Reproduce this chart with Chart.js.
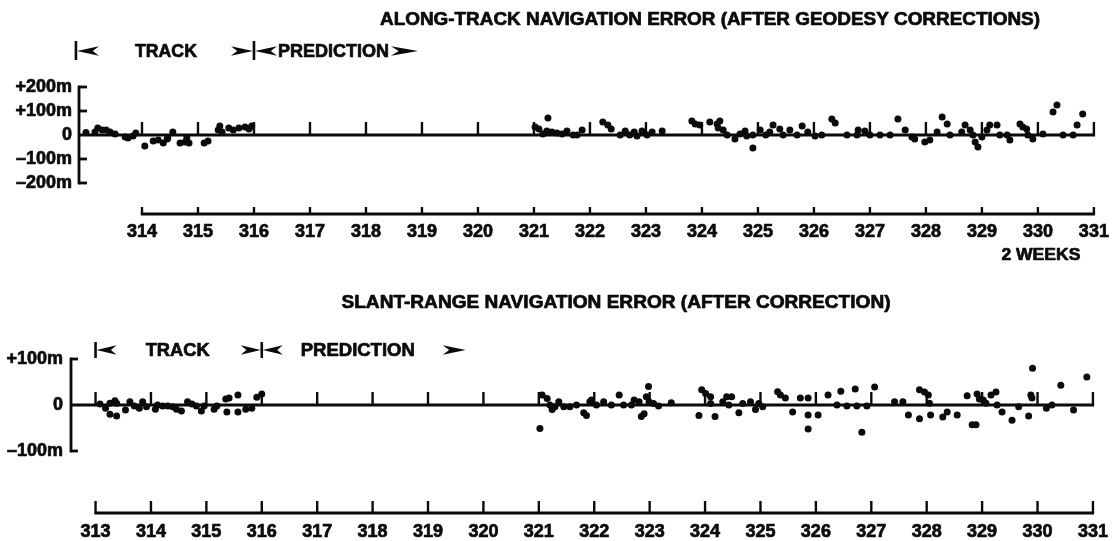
<!DOCTYPE html>
<html>
<head>
<meta charset="utf-8">
<script src="https://cdn.jsdelivr.net/npm/chart.js@4.4.1/dist/chart.umd.min.js"></script>
<style>
  html, body { margin: 0; padding: 0; background: #fff; }
  #wrap { position: relative; width: 1116px; height: 541px; background: #fff; }
  canvas { position: absolute; left: 0; }
  #along { top: 0; }
  #slant { top: 270px; }
</style>
</head>
<body>
<div id="wrap">
  <canvas id="along" width="1116" height="270"></canvas>
  <canvas id="slant" width="1116" height="271"></canvas>
</div>
<script>
// ---- day-of-year axis labels ----
const alongTickDays = [314, 315, 316, 317, 318, 319, 320, 321, 322, 323, 324, 325, 326, 327, 328, 329, 330, 331];
const slantTickDays = [313, 314, 315, 316, 317, 318, 319, 320, 321, 322, 323, 324, 325, 326, 327, 328, 329, 330, 331];

// ---- error axis labels (metres) ----
const alongYTicks  = [200, 100, 0, -100, -200];
const alongYLabels = ['+200m', '+100m', '0', '\u2013100m', '\u2013200m'];
const slantYTicks  = [100, 0, -100];
const slantYLabels = ['+100m', '0', '\u2013100m'];

// ---- along-track navigation error: day, error (m) ----
const alongDay = [
  313.00, 313.16, 313.21, 313.29, 313.36, 313.43, 313.52, 313.70, 313.75, 313.84, 313.89,
  314.05, 314.20, 314.29, 314.38, 314.45, 314.46, 314.55, 314.68, 314.77, 314.80, 314.84,
  315.11, 315.18, 315.36, 315.39, 315.43, 315.55, 315.63, 315.73, 315.84, 315.91, 315.96,
  321.02, 321.09, 321.16, 321.23, 321.25, 321.32, 321.41, 321.50, 321.59, 321.70, 321.77, 321.86,
  322.23, 322.32, 322.38, 322.54, 322.63, 322.71, 322.79, 322.84, 322.93,
  323.02, 323.11, 323.29, 323.82, 323.88, 323.96,
  324.14, 324.27, 324.29, 324.32, 324.38, 324.45, 324.59, 324.68, 324.77, 324.80, 324.91, 324.91,
  325.04, 325.14, 325.21, 325.27, 325.39, 325.45, 325.57, 325.70, 325.79, 325.89,
  326.02, 326.14, 326.32, 326.38, 326.59, 326.77, 326.79, 326.91,
  327.00, 327.18, 327.36, 327.50, 327.63, 327.75, 327.80, 327.98,
  328.07, 328.20, 328.29, 328.38, 328.43, 328.64, 328.70, 328.79, 328.84, 328.88, 328.93,
  329.00, 329.09, 329.14, 329.27, 329.32, 329.45, 329.50, 329.68, 329.73, 329.80, 329.82, 329.91,
  330.09, 330.27, 330.34, 330.45, 330.63, 330.70, 330.80
];
const alongErr = [
  10, 12, 29, 21, 21, 12, 4, -8, -12, -4, 8,
  -46, -25, -21, -33, -17, -12, 12, -33, -29, -12, -33,
  -33, -25, 21, 37, 12, 29, 21, 29, 33, 25, 38,
  33, 25, 4, 17, 71, 13, 8, 4, 17, 0, 0, 21,
  54, 42, 25, 0, 17, 0, 13, -4, 17,
  0, 13, 17, 58, 46, 42,
  54, 46, 29, 58, 21, 0, -17, 4, 17, -4, -54, 0,
  21, 0, 13, 42, 25, 0, 21, 0, 38, 13,
  -4, 0, 67, 50, 0, 0, 21, 17,
  0, 0, 0, 67, 21, -8, -17, -29,
  -21, 13, 75, 46, 0, 13, 42, 21, 0, -29, -50,
  -8, 21, 42, 42, 0, 0, -21, 46, 33, 25, 0, -17,
  4, 96, 125, 0, 0, 42, 88
];

// ---- slant-range navigation error: day, error (m) ----
const slantDay = [
  313.08, 313.18, 313.26, 313.35, 313.38, 313.26, 313.38, 313.54, 313.62, 313.70, 313.79, 313.85, 313.92,
  314.08, 314.12, 314.21, 314.30, 314.39, 314.46, 314.55, 314.66, 314.74, 314.82, 314.91, 314.96,
  315.14, 315.19, 315.35, 315.41, 315.57, 315.37, 315.57, 315.71, 315.82, 315.91, 316.00,
  321.02, 321.06, 321.15, 321.20, 321.24, 321.29, 321.36, 321.45, 321.56, 321.68, 321.81, 321.86, 321.92, 321.95,
  322.04, 322.17, 322.31, 322.45, 322.53, 322.67, 322.72, 322.81, 322.85, 322.90, 322.98, 322.94, 322.99,
  323.07, 323.16, 323.39, 323.89, 323.94,
  324.01, 324.10, 324.10, 324.18, 324.32, 324.39, 324.48, 324.43, 324.61, 324.68, 324.82, 324.91, 324.97,
  325.04, 325.31, 325.36, 325.45, 325.58, 325.72, 325.86, 325.86, 325.86,
  326.04, 326.22, 326.38, 326.45, 326.56, 326.71, 326.74, 326.83, 326.92,
  327.06, 327.42, 327.57, 327.67, 327.87, 327.96, 327.87,
  328.03, 328.05, 328.07, 328.29, 328.37, 328.55, 328.73, 328.82, 328.89, 328.91, 328.95,
  329.02, 329.07, 329.16, 329.25, 329.27, 329.36, 329.54, 329.66, 329.84, 329.90, 329.88, 329.91,
  330.16, 330.26, 330.42, 330.65, 330.89
];
const slantErr = [
  2, -7, 4, 9, 4, -20, -24, -11, 7, -2, -7, 7, -4,
  -9, 0, -2, -2, -4, -9, -13, 7, 2, -2, -13, -2,
  -9, -2, 13, 15, 22, -15, -15, -9, -7, 17, 24,
  -51, 22, 14, 0, -10, -4, 7, -4, -4, 0, -17, -23, 7, 11,
  0, 7, 0, 22, 0, 0, 11, 7, -25, -19, 40, 18, 7,
  3, -2, 5, -23, 33,
  25, 18, 3, -25, 7, 18, 18, 0, -17, 3, 7, -10, 3,
  -4, 29, 22, 15, -15, 15, 15, -22, -52,
  -22, 22, 0, 30, -2, 35, -2, -59, -2,
  39, 7, 7, -22, 33, 28, -30,
  22, 4, -22, -26, -15, -22, 20, -43, -43, 24, 13,
  11, 4, 22, 28, 0, -15, -33, -4, -24, 15, 22, 80,
  -7, 0, 43, -11, 61
];

const INK = '#0b0b0b';
const FACE = 'Liberation Sans, Arial, Helvetica, sans-serif';

Chart.defaults.font.family = FACE;
Chart.defaults.font.weight = 'bold';
Chart.defaults.color = INK;

function seg(ctx, x1, y1, x2, y2) {
  ctx.beginPath();
  ctx.moveTo(x1, y1);
  ctx.lineTo(x2, y2);
  ctx.stroke();
}

// Heavy bold text squeezed or stretched to a given width, centred on (cx, cy).
function fitText(ctx, text, cx, cy, width, size) {
  ctx.save();
  ctx.font = 'bold ' + size + 'px ' + FACE;
  const w = ctx.measureText(text).width;
  ctx.translate(cx, cy);
  ctx.scale(width / w, 1);
  ctx.textAlign = 'center';
  ctx.textBaseline = 'middle';
  ctx.fillStyle = INK;
  ctx.strokeStyle = INK;
  ctx.lineWidth = 0.7;
  ctx.lineJoin = 'round';
  ctx.fillText(text, 0, 0);
  ctx.strokeText(text, 0, 0);
  ctx.restore();
}

// Notched arrowhead; dir = +1 points right, -1 points left.
function dart(ctx, tip, yc, dir, len, h) {
  const back = tip - dir * len;
  ctx.beginPath();
  ctx.moveTo(tip, yc);
  ctx.lineTo(back, yc - h);
  ctx.lineTo(back + dir * len * 0.28, yc);
  ctx.lineTo(back, yc + h);
  ctx.closePath();
  ctx.fill();
}

// Hand-drafted frame: error axis with inward stubs, zero line with day ticks,
// separate day axis underneath, title and TRACK / PREDICTION band.
function framePlugin(p) {
  return {
    id: 'frame_' + p.id,
    beforeDatasetsDraw(chart) {
      const { ctx, chartArea: a, scales: { x, y } } = chart;
      ctx.save();
      ctx.strokeStyle = INK;
      ctx.lineWidth = 2.8;
      ctx.lineCap = 'butt';

      const yTop = y.getPixelForValue(p.yTicks[0]);
      const yBot = y.getPixelForValue(p.yTicks[p.yTicks.length - 1]);
      seg(ctx, a.left, yTop - 1.4, a.left, yBot + 1.4);
      p.yTicks.forEach(v => {
        if (v !== 0) {
          const py = y.getPixelForValue(v);
          seg(ctx, a.left, py, a.left + p.stub, py);
        }
      });

      const y0 = y.getPixelForValue(0);
      const xFirst = x.getPixelForValue(p.ticks[0]);
      const xLast = x.getPixelForValue(p.ticks[p.ticks.length - 1]);
      seg(ctx, a.left, y0, xLast + 1.2, y0);
      ctx.lineWidth = 2.4;
      p.ticks.forEach(d => {
        const px = x.getPixelForValue(d);
        seg(ctx, px, y0, px, y0 - p.zeroTick);
      });

      ctx.lineWidth = 2.8;
      seg(ctx, xFirst - 1.2, a.bottom, xLast + 1.2, a.bottom);
      ctx.lineWidth = 2.4;
      p.ticks.forEach(d => {
        const px = x.getPixelForValue(d);
        seg(ctx, px, a.bottom, px, a.bottom - p.axisTick);
      });
      ctx.restore();
    },
    afterDraw(chart) {
      const { ctx, scales: { x } } = chart;
      const t = p.title;
      fitText(ctx, t.text, t.cx, t.cy, t.w, 18);

      const b = p.band;
      const xa = x.getPixelForValue(b.trackFrom);
      const xs = x.getPixelForValue(b.split);
      const xe = x.getPixelForValue(b.predTo);
      ctx.save();
      ctx.strokeStyle = INK;
      ctx.fillStyle = INK;
      ctx.lineWidth = 2.6;
      seg(ctx, xa, b.barTop, xa, b.barBot);
      seg(ctx, xs, b.barTop, xs, b.barBot);
      dart(ctx, xa + 1, b.y, -1, b.headLen, 4.8);
      dart(ctx, xs - 1, b.y, 1, b.headLen, 4.8);
      dart(ctx, xs + 1, b.y, -1, b.headLen, 4.8);
      dart(ctx, xe, b.y, 1, b.endLen, 4.8);
      ctx.restore();
      fitText(ctx, 'TRACK', (xa + xs) / 2 + b.trackShift, b.y + 1, b.trackW, 18);
      fitText(ctx, 'PREDICTION', xs + b.predGap + b.predW / 2, b.y + 1, b.predW, 18);

      if (p.note) {
        fitText(ctx, p.note.text, x.getPixelForValue(p.note.at) + p.note.dx, p.note.cy, p.note.w, 17);
      }
    }
  };
}

function makePanel(p) {
  const pts = p.days.map((d, i) => ({ x: d, y: p.errs[i] }));
  const tickFont = { size: 18, weight: 'bold' };
  return new Chart(document.getElementById(p.id), {
    type: 'scatter',
    data: {
      datasets: [{
        data: pts,
        backgroundColor: INK,
        borderWidth: 0,
        pointRadius: 3.5,
        pointHoverRadius: 3.5
      }]
    },
    options: {
      responsive: false,
      animation: false,
      devicePixelRatio: 1,
      events: [],
      layout: { autoPadding: false, padding: { left: 0, right: p.padRight, top: p.padTop, bottom: 0 } },
      plugins: { legend: { display: false }, tooltip: { enabled: false } },
      scales: {
        x: {
          type: 'linear',
          min: p.xmin,
          max: p.xmax,
          grid: { display: false, drawTicks: false },
          border: { display: false },
          afterBuildTicks: s => { s.ticks = p.ticks.map(v => ({ value: v })); },
          afterFit: s => { s.height = p.xHeight; },
          ticks: {
            autoSkip: false,
            maxRotation: 0,
            padding: p.xPad,
            color: INK,
            textStrokeColor: INK,
            textStrokeWidth: 0.7,
            font: tickFont,
            callback: v => String(v)
          }
        },
        y: {
          type: 'linear',
          min: p.ymin,
          max: p.ymax,
          grid: { display: false, drawTicks: false },
          border: { display: false },
          afterBuildTicks: s => { s.ticks = p.yTicks.map(v => ({ value: v })); },
          afterFit: s => { s.width = p.yWidth; },
          ticks: {
            padding: p.yPad,
            color: INK,
            textStrokeColor: INK,
            textStrokeWidth: 0.7,
            font: tickFont,
            callback: (v, i) => p.yLabels[i]
          }
        }
      }
    },
    plugins: [framePlugin(p)]
  });
}

makePanel({
  id: 'along',
  days: alongDay, errs: alongErr,
  ticks: alongTickDays, yTicks: alongYTicks, yLabels: alongYLabels,
  xmin: 312.875, xmax: 331.107, ymin: -329.2, ymax: 200,
  padTop: 87, padRight: 16, yWidth: 79, xHeight: 56, xPad: 7, yPad: 7,
  stub: 8, zeroTick: 13, axisTick: 7,
  title: { text: 'ALONG-TRACK NAVIGATION ERROR (AFTER GEODESY CORRECTIONS)', cx: 710, cy: 20, w: 660 },
  band: { y: 51, barTop: 41, barBot: 60, trackFrom: 312.82, split: 316, predTo: 318.93,
          headLen: 22, endLen: 27, trackShift: 1, trackW: 62, predGap: 24, predW: 111 },
  note: { text: '2 WEEKS', at: 330, dx: 3, cy: 255, w: 79 }
});

makePanel({
  id: 'slant',
  days: slantDay, errs: slantErr,
  ticks: slantTickDays, yTicks: slantYTicks, yLabels: slantYLabels,
  xmin: 312.557, xmax: 331.084, ymin: -234.8, ymax: 100,
  padTop: 89, padRight: 12, yWidth: 71, xHeight: 28, xPad: 8, yPad: 8,
  stub: 7, zeroTick: 13, axisTick: 12,
  title: { text: 'SLANT-RANGE NAVIGATION ERROR (AFTER CORRECTION)', cx: 616, cy: 33, w: 549 },
  band: { y: 80, barTop: 72, barBot: 88, trackFrom: 313, split: 316, predTo: 319.68,
          headLen: 20, endLen: 23, trackShift: -1, trackW: 64, predGap: 39, predW: 114 },
  note: null
});
</script>
</body>
</html>
